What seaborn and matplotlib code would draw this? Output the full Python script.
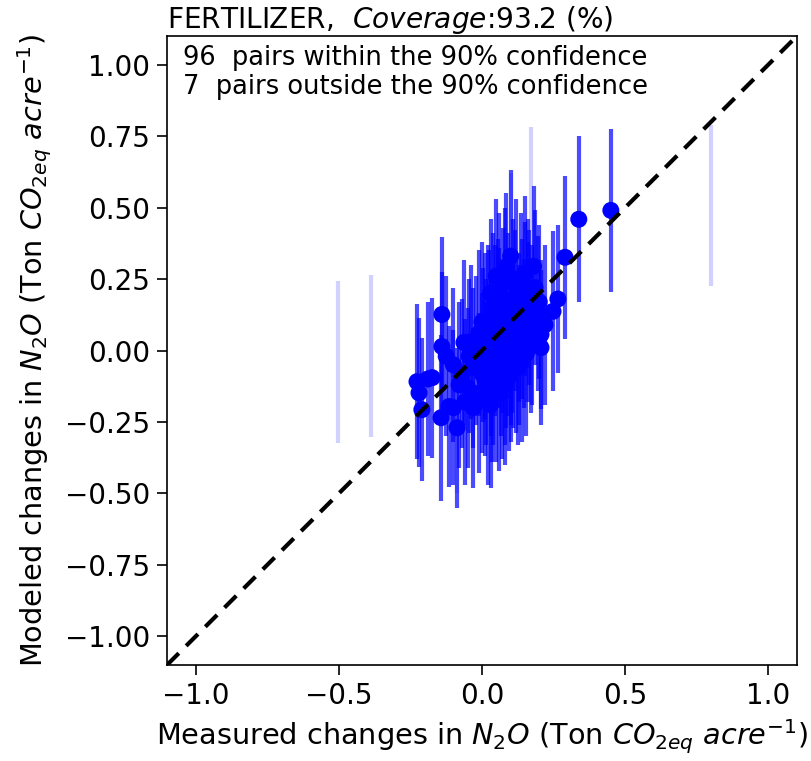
import matplotlib
matplotlib.use("Agg")
import matplotlib.pyplot as plt
import seaborn as sns
import pandas as pd

# ---- data: pairs within the 90% confidence interval ----
measured_in = [-0.227, -0.220, -0.210, -0.174, -0.190, -0.143, -0.115, -0.087, -0.140, -0.140,
               -0.125, -0.100, -0.063, -0.070, -0.050, -0.100, -0.060, -0.030, -0.040, -0.020,
               0.000, 0.010, 0.020, 0.030, 0.040, 0.050, 0.060, 0.070, 0.080, 0.090,
               0.100, 0.110, 0.120, 0.130, 0.140, 0.150, 0.160, 0.170, 0.180, 0.185,
               0.206, 0.206, 0.248, 0.265, 0.290, 0.338, 0.450, -0.010, 0.005, 0.015,
               0.025, 0.035, 0.045, 0.055, 0.065, 0.075, 0.085, 0.095, 0.105, 0.115,
               0.125, 0.135, 0.145, 0.155, 0.165, 0.175, 0.195, 0.000, 0.020, 0.040,
               0.060, 0.080, 0.100, 0.120, 0.140, 0.060, 0.080, -0.010, 0.030, 0.050,
               0.110, 0.150, 0.090, 0.070, 0.010, -0.030, 0.030, 0.100, 0.130, 0.160,
               0.200, 0.220, -0.080, -0.045, 0.045, 0.085]
modeled_in = [-0.109, -0.148, -0.207, -0.095, -0.100, -0.235, -0.196, -0.270, 0.126, 0.014,
              -0.020, -0.050, 0.028, -0.080, -0.130, -0.200, -0.180, -0.060, 0.030, 0.000,
              -0.080, 0.050, 0.100, -0.020, 0.150, -0.100, 0.200, 0.050, -0.050, 0.120,
              0.330, 0.000, 0.250, 0.080, -0.030, 0.180, 0.100, 0.040, 0.294, 0.220,
              0.056, 0.010, 0.137, 0.180, 0.326, 0.459, 0.490, -0.150, 0.020, -0.040,
              0.070, -0.120, 0.030, 0.110, -0.010, 0.160, 0.010, -0.090, 0.070, 0.140,
              -0.060, 0.200, 0.060, -0.010, 0.150, 0.090, 0.130, 0.100, -0.180, -0.060,
              0.080, 0.240, 0.030, -0.020, 0.110, -0.150, -0.120, 0.060, 0.200, 0.260,
              0.180, 0.270, 0.060, -0.100, -0.100, -0.200, -0.190, -0.050, 0.020, 0.200,
              0.170, 0.090, -0.120, -0.020, 0.090, 0.290]
err_in = [0.27, 0.26, 0.25, 0.28, 0.27, 0.29, 0.28, 0.28, 0.27, 0.26,
          0.28, 0.27, 0.29, 0.26, 0.28, 0.27, 0.29, 0.28, 0.27, 0.26,
          0.28, 0.29, 0.27, 0.28, 0.26, 0.29, 0.28, 0.27, 0.28, 0.29,
          0.30, 0.27, 0.28, 0.26, 0.29, 0.27, 0.28, 0.26, 0.28, 0.27,
          0.26, 0.27, 0.28, 0.26, 0.285, 0.29, 0.285, 0.28, 0.27, 0.29,
          0.28, 0.27, 0.26, 0.28, 0.29, 0.27, 0.28, 0.26, 0.29, 0.28,
          0.27, 0.28, 0.26, 0.29, 0.27, 0.28, 0.27, 0.28, 0.29, 0.27,
          0.28, 0.26, 0.29, 0.27, 0.28, 0.27, 0.28, 0.29, 0.26, 0.27,
          0.28, 0.27, 0.29, 0.28, 0.27, 0.28, 0.29, 0.27, 0.28, 0.26,
          0.27, 0.28, 0.29, 0.27, 0.28, 0.26]

# ---- data: pairs outside the 90% confidence interval ----
measured_out = [-0.502, -0.387, 0.170, 0.800, 0.100, 0.150, -0.087]
modeled_out = [-0.040, -0.020, 0.500, 0.507, 0.370, 0.310, -0.300]
err_out = [0.284, 0.284, 0.280, 0.283, 0.250, 0.140, 0.200]

title_prefix = "FERTILIZER,  "
coverage = 93.2
n_in = len(measured_in)
n_out = len(measured_out)
xticks = [-1.0, -0.5, 0.0, 0.5, 1.0]
yticks = [-1.00, -0.75, -0.50, -0.25, 0.00, 0.25, 0.50, 0.75, 1.00]
lim = [-1.1, 1.1]

sns.set_style("ticks", rc={
    "text.color": "black", "axes.labelcolor": "black", "axes.edgecolor": "black",
    "xtick.color": "black", "ytick.color": "black",
})
plt.rcParams["font.family"] = ["DejaVu Sans"]

fig = plt.figure(figsize=(8.12, 7.61), dpi=100)
ax = fig.add_axes([167 / 812, 1 - 665 / 761, 630 / 812, 629 / 761])

df_in = pd.DataFrame({"measured": measured_in, "modeled": modeled_in, "err": err_in})
df_out = pd.DataFrame({"measured": measured_out, "modeled": modeled_out, "err": err_out})

ax.errorbar(df_out["measured"], df_out["modeled"], yerr=df_out["err"], fmt="none",
            ecolor="blue", elinewidth=3, alpha=0.18, zorder=1)
ax.errorbar(df_in["measured"], df_in["modeled"], yerr=df_in["err"], fmt="none",
            ecolor="blue", elinewidth=3, alpha=0.7, zorder=2)
sns.scatterplot(data=df_in, x="measured", y="modeled", ax=ax, color="blue",
                s=150, edgecolor="none", linewidth=0, zorder=3)

ax.plot(lim, lim, color="black", linestyle="--", linewidth=3, dashes=(4, 2.5), zorder=4)

ax.set_xlim(lim)
ax.set_ylim(lim)
ax.set_xticks(xticks)
ax.set_yticks(yticks)
ax.set_xticklabels([f"{v:.1f}".replace("-", "\u2212") for v in xticks])
ax.set_yticklabels([f"{v:.2f}".replace("-", "\u2212") for v in yticks])
ax.tick_params(labelsize=20, length=7, width=1.2, direction="out", pad=5)
for sp in ax.spines.values():
    sp.set_visible(True)
    sp.set_linewidth(1.2)

ax.set_xlabel(r"Measured changes in $N_2O$ (Ton $CO_{2eq}$ $acre^{-1}$)", fontsize=20.7, labelpad=6)
ax.set_ylabel(r"Modeled changes in $N_2O$ (Ton $CO_{2eq}$ $acre^{-1}$)", fontsize=20.7, labelpad=8)
ax.set_title(title_prefix + r"$\it{Coverage}$" + f":{coverage} (%)", loc="left",
             fontsize=20.2, pad=4)
ax.text(0.025, 0.985, f"{n_in}  pairs within the 90% confidence\n{n_out}  pairs outside the 90% confidence",
        transform=ax.transAxes, ha="left", va="top", fontsize=18.5, linespacing=1.15)

fig.savefig("out.png", dpi=100)
